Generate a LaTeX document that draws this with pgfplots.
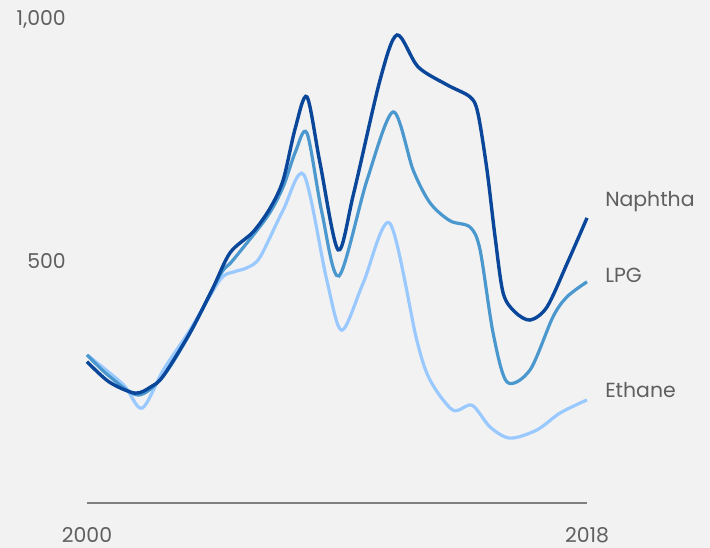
\documentclass[border=0pt]{standalone}
\usepackage{pgfplots}
\pgfplotsset{compat=1.18}
\usepackage{fontspec}
\setmainfont{Poppins}
\definecolor{bg}{HTML}{F2F2F2}
\definecolor{naph}{HTML}{0A4699}
\definecolor{lpg}{HTML}{4B98CF}
\definecolor{eth}{HTML}{99C9FF}
\definecolor{txt}{HTML}{5F5F5F}
\definecolor{axl}{HTML}{7F7F7F}
\begin{document}
\begin{tikzpicture}
\fill[bg] (-87bp,-45bp) rectangle (623bp,503bp);
\path[use as bounding box] (-87bp,-45bp) rectangle (623bp,503bp);
\begin{axis}[
  scale only axis,
  width=500bp, height=484bp,
  xmin=2000, xmax=2018, ymin=0, ymax=1000,
  axis lines=left,
  axis line style={-},
  y axis line style={draw=none},
  x axis line style={draw=axl, line width=2bp},
  major tick length=0pt,
  xtick={2000,2018}, xticklabels={2000,2018},
  ytick={500,1000}, yticklabels={500,{1,000}},
  /pgf/number format/assume math mode=true,
  tick label style={font=\fontsize{20.5}{24}\selectfont, text=txt, inner sep=0pt},
  xticklabel style={anchor=north, yshift=-24bp},
  yticklabel style={anchor=east, xshift=-21bp},
  clip=false,
]
\addplot[eth, line width=3.2bp, smooth] coordinates {
(2000.0,306) (2001.3,245) (2001.98,196) (2002.75,275) (2003.7,357) (2004.79,461)
(2005.26,477) (2005.76,486) (2006.23,508) (2007.06,605) (2007.81,678) (2008.63,461)
(2009.17,357) (2009.94,454) (2010.9,578) (2011.87,337) (2012.35,254) (2013.17,192)
(2013.86,202) (2014.51,157) (2015.23,134) (2016.20,151) (2017.03,186) (2018.0,213)
};
\addplot[lpg, line width=3.2bp, smooth] coordinates {
(2000.0,306) (2000.8,262) (2001.84,223) (2002.74,262) (2003.7,350) (2004.79,471)
(2005.26,502) (2006.48,591) (2007.06,653) (2007.5,725) (2007.92,764) (2008.46,599)
(2009.07,469) (2010.08,667) (2011.02,808) (2011.74,688) (2012.35,620) (2013.07,583)
(2013.79,570) (2014.15,523) (2014.62,351) (2015.12,250) (2015.95,275) (2016.77,384)
(2017.28,426) (2018.0,457)
};
\addplot[naph, line width=3.4bp, smooth] coordinates {
(2000.0,292) (2000.8,250) (2001.73,227) (2002.3,240) (2002.74,262) (2003.7,351)
(2004.5,440) (2005.15,517) (2005.98,560) (2006.6,610) (2007.06,667) (2007.5,775)
(2007.92,839) (2008.39,702) (2009.04,523) (2009.6,640) (2010.55,874) (2011.16,967)
(2011.92,901) (2012.96,864) (2013.79,839) (2014.07,806) (2014.40,688) (2014.69,550)
(2014.98,434) (2015.4,395) (2015.95,378) (2016.56,405) (2017.3,497) (2018.0,589)
};
\node[anchor=west, inner sep=0pt, text=txt, font=\fontsize{20.5}{24}\selectfont] at (axis cs:2018.65,622) {Naphtha};
\node[anchor=west, inner sep=0pt, text=txt, font=\fontsize{20.5}{24}\selectfont] at (axis cs:2018.65,471) {LPG};
\node[anchor=west, inner sep=0pt, text=txt, font=\fontsize{20.5}{24}\selectfont] at (axis cs:2018.65,233) {Ethane};
\end{axis}
\end{tikzpicture}
\end{document}
